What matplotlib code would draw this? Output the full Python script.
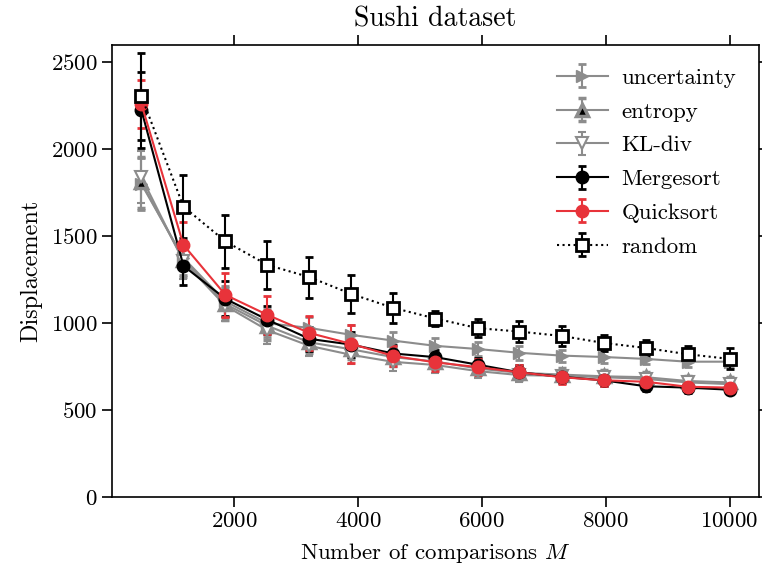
import numpy as np
import matplotlib
matplotlib.use("Agg")
import matplotlib.pyplot as plt

# Number of comparisons M
m_values = [500, 1179, 1857, 2536, 3214, 3893, 4571, 5250, 5929, 6607, 7286, 7964, 8643, 9321, 10000]

# Mean displacement and spread per method
uncertainty = [1800, 1375, 1125, 1000, 973, 933, 900, 870, 852, 830, 814, 806, 795, 779, 779]
uncertainty_err = [150, 100, 90, 80, 60, 55, 50, 45, 40, 40, 35, 35, 30, 30, 30]
entropy = [1810, 1365, 1110, 985, 890, 850, 805, 780, 740, 715, 705, 695, 690, 668, 660]
entropy_err = [145, 100, 90, 80, 60, 55, 50, 45, 40, 40, 35, 35, 30, 30, 30]
kldiv = [1840, 1355, 1100, 960, 870, 818, 778, 760, 725, 702, 698, 690, 680, 660, 650]
kldiv_err = [150, 100, 90, 80, 60, 55, 50, 45, 40, 40, 35, 35, 30, 30, 30]
mergesort = [2225, 1330, 1140, 1020, 910, 877, 826, 805, 762, 718, 692, 672, 638, 630, 618]
mergesort_err = [220, 110, 100, 80, 70, 70, 50, 40, 40, 40, 35, 30, 30, 30, 25]
quicksort = [2260, 1450, 1163, 1048, 944, 881, 812, 775, 748, 718, 690, 672, 664, 635, 630]
quicksort_err = [140, 130, 125, 110, 100, 110, 60, 50, 45, 40, 40, 35, 45, 30, 30]
random = [2305, 1670, 1470, 1335, 1265, 1168, 1088, 1027, 972, 952, 927, 887, 858, 822, 795]
random_err = [250, 180, 150, 140, 118, 110, 87, 43, 50, 60, 57, 47, 45, 47, 60]

plt.rcParams['font.family'] = 'serif'
plt.rcParams['font.serif'] = ['cmr10']
plt.rcParams['mathtext.fontset'] = 'cm'
plt.rcParams['axes.unicode_minus'] = False
plt.rcParams['axes.formatter.use_mathtext'] = True

GRAY = '#8c8c8c'
RED = '#e8333a'
FS = 16.5

fig = plt.figure(figsize=(7.62, 5.67), dpi=100)
ax = fig.add_axes([0.147, 0.123, 0.849, 0.798])

common = dict(capsize=3, capthick=2, elinewidth=1.5, lw=1.5)

ax.errorbar(m_values, uncertainty, yerr=uncertainty_err, color=GRAY, marker='>',
            ms=9, mfc=GRAY, mec=GRAY, label='uncertainty', **common)
ax.errorbar(m_values, entropy, yerr=entropy_err, color=GRAY, marker='^',
            ms=9, mfc='k', mec=GRAY, mew=2.5, label='entropy', **common)
ax.errorbar(m_values, kldiv, yerr=kldiv_err, color=GRAY, marker='v',
            ms=9, mfc='white', mec=GRAY, mew=1.5, label='KL-div', **common)
ax.errorbar(m_values, mergesort, yerr=mergesort_err, color='k', marker='o',
            ms=9, label='Mergesort', **common)
ax.errorbar(m_values, quicksort, yerr=quicksort_err, color=RED, marker='o',
            ms=9, label='Quicksort', **common)
ax.errorbar(m_values, random, yerr=random_err, color='k', ls=':', marker='s',
            ms=9, mfc='white', mec='k', mew=2, label='random', **common)

ax.set_ylim(0, 2600)
ax.set_xticks([2000, 4000, 6000, 8000, 10000])
ax.set_yticks([0, 500, 1000, 1500, 2000, 2500])
ax.tick_params(axis='both', which='major', labelsize=FS, direction='out',
               length=7, width=1.2, top=True, right=True)
for s in ax.spines.values():
    s.set_linewidth(1.2)

ax.set_title('Sushi dataset', fontsize=20, pad=13)
ax.set_xlabel('Number of comparisons $M$', fontsize=FS, labelpad=7)
ax.set_ylabel('Displacement', fontsize=17.5, labelpad=6)

ax.legend(loc='upper right', frameon=False, fontsize=FS, handlelength=2.2,
          borderaxespad=0.6, labelspacing=0.6, handletextpad=0.6)

fig.savefig('out.png', dpi=100)
